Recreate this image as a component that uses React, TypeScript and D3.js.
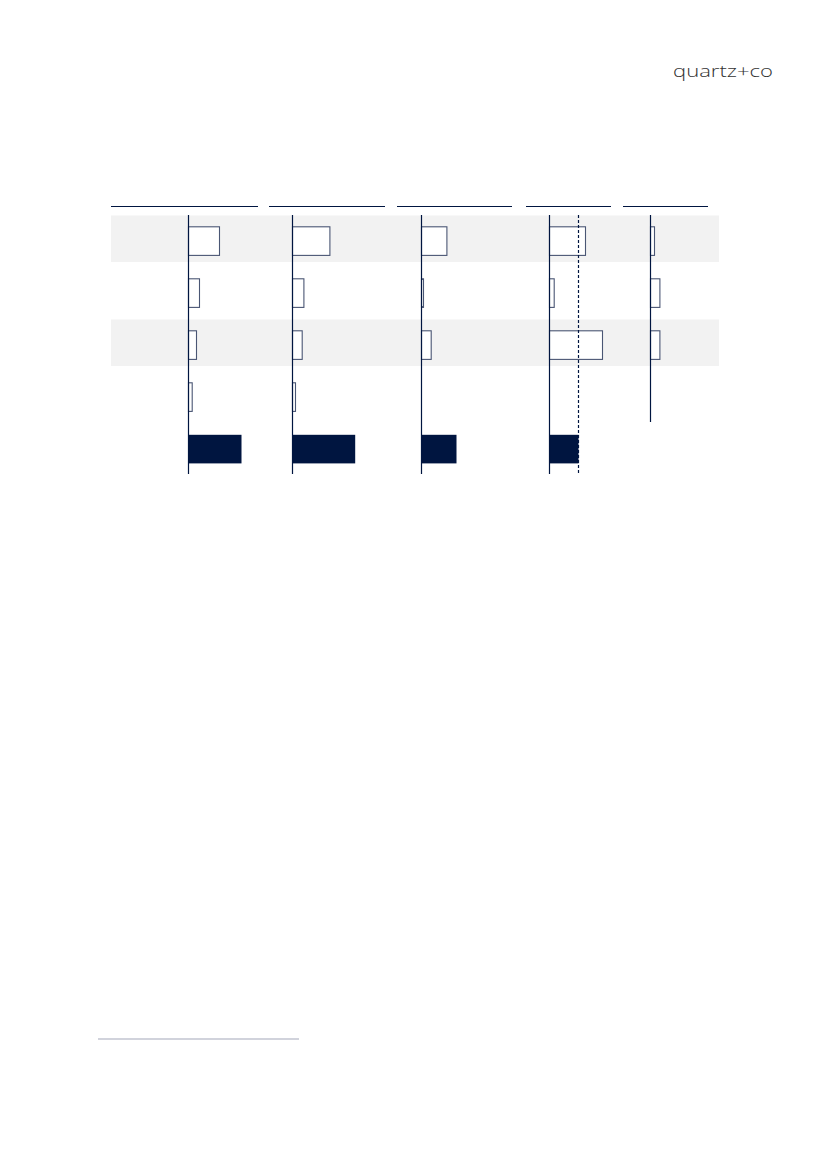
import { useMemo } from 'react';
import * as d3 from 'd3';

// the chart carries no printed labels, only bars
const rows = ['r1', 'r2', 'r3', 'r4', 'total'];
const columns = ['c1', 'c2', 'c3', 'c4', 'c5'];

// component values per column (rows r1..r4)
const c1Values = [31, 11, 8, 3.7];
const c2Values = [37.4, 11.4, 9.7, 3];
const c3Values = [25.4, 2, 9.7, 0];
const c4Values = [36, 4.7, 53, 0];
const c5Values = [4, 9.4, 9.4, 0];

// totals (filled bars); c5 has none
const totals = [53, 62.7, 35, 29, null];
// dashed reference line, only column 4
const referenceLines = [null, null, null, 29, null];

const W = 827;
const H = 1169;
const NAVY = '#001540';

// layout of the columns: header rule extent and axis position
const layout = [
  { h0: 111, h1: 258, axis: 188.5 },
  { h0: 269, h1: 385, axis: 292.5 },
  { h0: 397, h1: 512, axis: 421.5 },
  { h0: 526, h1: 611, axis: 549.5 },
  { h0: 623, h1: 708, axis: 650.5 },
];

export default function App() {
  const values = [c1Values, c2Values, c3Values, c4Values, c5Values];

  const y = useMemo(() => d3.scaleBand<string>().domain(rows).range([214, 474]), []);
  const x = useMemo(() => d3.scaleLinear().domain([0, 60]).range([0, 60]), []);

  const barOffset = 12.8;
  const barH = 28.6;

  return (
    <svg
      width={W}
      height={H}
      viewBox={`0 0 ${W} ${H}`}
      style={{ position: 'absolute', left: 0, top: 0, background: '#fff' }}
    >
      <text
        x={673}
        y={77}
        textLength={100}
        lengthAdjust="spacingAndGlyphs"
        fontFamily="'Open Sans', sans-serif"
        fontWeight={300}
        fontSize={16.5}
        fill="#333"
      >
        quartz+co
      </text>

      {/* shaded rows */}
      {rows
        .filter((_, i) => i % 2 === 0 && i < 4)
        .map((r) => (
          <rect key={r} x={111} y={y(r)! + 1.5} width={608} height={46.5} fill="#f2f2f2" />
        ))}

      {/* header rules */}
      {layout.map((l, i) => (
        <line key={columns[i]} x1={l.h0} x2={l.h1} y1={206.5} y2={206.5} stroke={NAVY} strokeWidth={1.1} />
      ))}

      {columns.map((c, ci) => {
        const ax = layout[ci].axis;
        const vals = values[ci];
        const lastRow = totals[ci] == null ? rows[vals.length - 1] : rows[rows.length - 1];
        const axisEnd = y(lastRow)! + y.bandwidth();
        const ref = referenceLines[ci];
        return (
          <g key={c}>
            {vals.map((v, ri) =>
              v > 0 ? (
                <rect
                  key={ri}
                  x={ax}
                  y={y(rows[ri])! + barOffset}
                  width={x(v)}
                  height={barH}
                  fill="#fff"
                  stroke="#4a5674"
                  strokeWidth={1.1}
                />
              ) : null
            )}
            {totals[ci] != null && (
              <rect
                x={ax}
                y={y('total')! + barOffset}
                width={x(totals[ci] as number)}
                height={barH}
                fill={NAVY}
              />
            )}
            <line x1={ax} x2={ax} y1={215} y2={axisEnd} stroke={NAVY} strokeWidth={1.2} />
            {ref != null && (
              <line
                x1={ax + x(ref)}
                x2={ax + x(ref)}
                y1={215}
                y2={axisEnd}
                stroke={NAVY}
                strokeWidth={1.2}
                strokeDasharray="3,2"
              />
            )}
          </g>
        );
      })}

      {/* footnote rule */}
      <line x1={98} x2={299} y1={1039} y2={1039} stroke="#a3a7ba" strokeWidth={1.2} />
    </svg>
  );
}
